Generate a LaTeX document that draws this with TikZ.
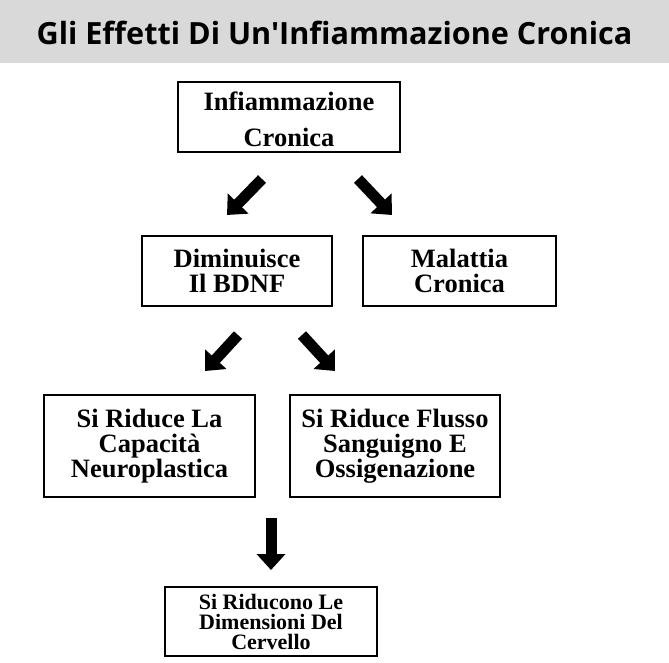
\documentclass[tikz,border=0pt]{standalone}
\usepackage{fontspec}
\setmainfont{Liberation Serif}
\newfontfamily\titlefont{Open Sans}
\usetikzlibrary{arrows.meta}
\definecolor{titlegray}{HTML}{D9D9D9}
\begin{document}
\begin{tikzpicture}[x=1pt,y=-1pt,
  box/.style={draw=black,line width=2.5pt,fill=white,inner sep=0pt,align=center,
    font=\bfseries\fontsize{26.5}{25}\selectfont},
  blockarrow/.style={line width=11pt,-{Triangle[width=28pt,length=16pt]}}]
\useasboundingbox[fill=white] (0,0) rectangle (669,663);
\fill[titlegray] (0,0) rectangle (669,63);
\node[font=\titlefont\bfseries\fontsize{30.6}{30}\selectfont] (title) at (334.5,33) {Gli Effetti Di Un'Infiammazione Cronica};

\node[box,minimum width=222pt,minimum height=70pt] (b1) at (289,117) {};
\node[font=\bfseries\fontsize{26.5}{36}\selectfont,align=center,inner sep=0pt] (t1) at (b1.center) [yshift=-2pt] {Infiammazione\\Cronica};
\node[box,minimum width=190pt,minimum height=70pt] (b2) at (237,271) {Diminuisce\\Il BDNF};
\node[box,minimum width=193pt,minimum height=70pt] (b3) at (459.5,271) {Malattia\\Cronica};
\node[box,minimum width=211pt,minimum height=102pt] (b4) at (149.5,446) {Si Riduce La\\Capacità\\Neuroplastica};
\node[box,minimum width=210pt,minimum height=102pt] (b5) at (395,446) {Si Riduce Flusso\\Sanguigno E\\Ossigenazione};
\node[box,minimum width=212pt,minimum height=69pt,font=\bfseries\fontsize{22}{20}\selectfont] (b6) at (271,621.5) {Si Riducono Le\\Dimensioni Del\\Cervello};

\coordinate (a1s) at (262,179); \coordinate (a1e) at (227,215);
\coordinate (a2s) at (358,179); \coordinate (a2e) at (392,215);
\coordinate (a3s) at (238,335); \coordinate (a3e) at (205,371);
\coordinate (a4s) at (302,335); \coordinate (a4e) at (335,371);
\coordinate (a5s) at (271,518); \coordinate (a5e) at (271,570);
\draw[blockarrow] (a1s) -- (a1e);
\draw[blockarrow] (a2s) -- (a2e);
\draw[blockarrow] (a3s) -- (a3e);
\draw[blockarrow] (a4s) -- (a4e);
\draw[blockarrow] (a5s) -- (a5e);
\end{tikzpicture}
\end{document}
